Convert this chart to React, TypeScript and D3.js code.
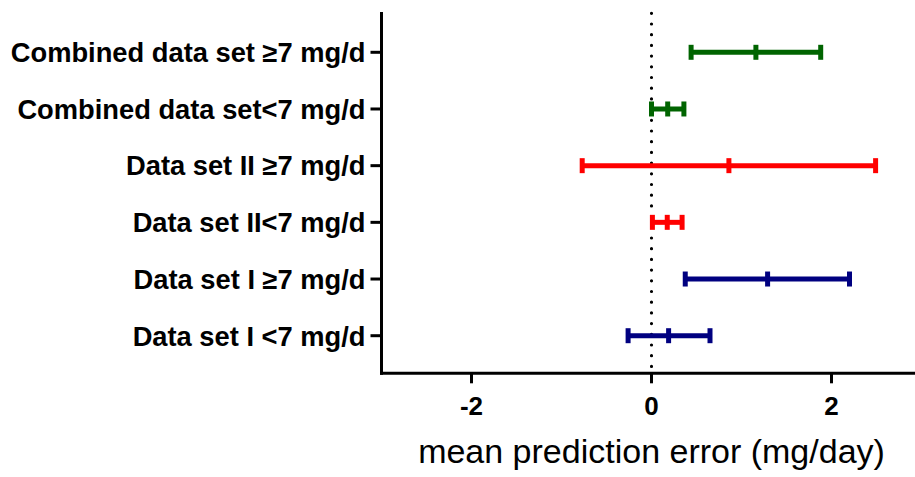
import React from "react";
import * as d3 from "d3";

const categories = [
  "Combined data set \u22657 mg/d",
  "Combined data set<7 mg/d",
  "Data set II \u22657 mg/d",
  "Data set II<7 mg/d",
  "Data set I \u22657 mg/d",
  "Data set I <7 mg/d",
];
const means = [1.16, 0.18, 0.86, 0.175, 1.29, 0.19];
const lows = [0.44, 0.0, -0.77, 0.01, 0.375, -0.26];
const highs = [1.88, 0.36, 2.49, 0.34, 2.2, 0.65];
const barColors = ["#006400", "#006400", "#ff0000", "#ff0000", "#000080", "#000080"];
const xTicks = [-2, 0, 2];
const xDomain = [-3, 3];
const xTitle = "mean prediction error (mg/day)";

const W = 915;
const H = 477;
const left = 381.5;
const right = 921.5;
const top = 12;
const bottom = 373.3;

export default function App() {
  const x = d3.scaleLinear().domain(xDomain).range([left, right]);
  const y = d3.scalePoint<string>().domain(categories).range([52.3, 335.7]);
  const font = "'Liberation Sans', Arial, sans-serif";
  const capH = 15;

  return (
    <svg
      width={W}
      height={H}
      style={{ position: "absolute", left: 0, top: 0, background: "#fff" }}
      fontFamily={font}
    >
      {/* zero reference dotted line */}
      <line
        x1={x(0)}
        x2={x(0)}
        y1={13.3}
        y2={bottom}
        stroke="#000"
        strokeWidth={3.2}
        strokeLinecap="round"
        strokeDasharray="0 10.7"
      />
      {/* error bars */}
      {categories.map((c, i) => {
        const yy = y(c)!;
        const col = barColors[i];
        return (
          <g key={c}>
            <line x1={x(lows[i])} x2={x(highs[i])} y1={yy} y2={yy} stroke={col} strokeWidth={5} />
            {[lows[i], means[i], highs[i]].map((v, k) => (
              <line
                key={k}
                x1={x(v)}
                x2={x(v)}
                y1={yy - capH / 2}
                y2={yy + capH / 2}
                stroke={col}
                strokeWidth={5}
              />
            ))}
          </g>
        );
      })}
      {/* y axis */}
      <line x1={left} x2={left} y1={top} y2={bottom + 1.5} stroke="#000" strokeWidth={3} />
      {categories.map((c) => (
        <g key={"t" + c}>
          <line x1={left - 11} x2={left} y1={y(c)!} y2={y(c)!} stroke="#000" strokeWidth={3} />
          <text
            x={left - 16}
            y={y(c)!}
            dy="0.36em"
            textAnchor="end"
            fontSize={27.3}
            fontWeight="bold"
            fill="#000"
          >
            {c}
          </text>
        </g>
      ))}
      {/* x axis */}
      <line x1={left - 1.5} x2={right} y1={bottom} y2={bottom} stroke="#000" strokeWidth={3} />
      {xTicks.map((t) => (
        <g key={"x" + t}>
          <line x1={x(t)} x2={x(t)} y1={bottom} y2={bottom + 10} stroke="#000" strokeWidth={3} />
          <text
            x={x(t)}
            y={415}
            textAnchor="middle"
            fontSize={26}
            fontWeight="bold"
            fill="#000"
          >
            {t < 0 ? "-" + Math.abs(t) : String(t)}
          </text>
        </g>
      ))}
      <text x={(left + right) / 2} y={463} textAnchor="middle" fontSize={34} fill="#000">
        {xTitle}
      </text>
    </svg>
  );
}
